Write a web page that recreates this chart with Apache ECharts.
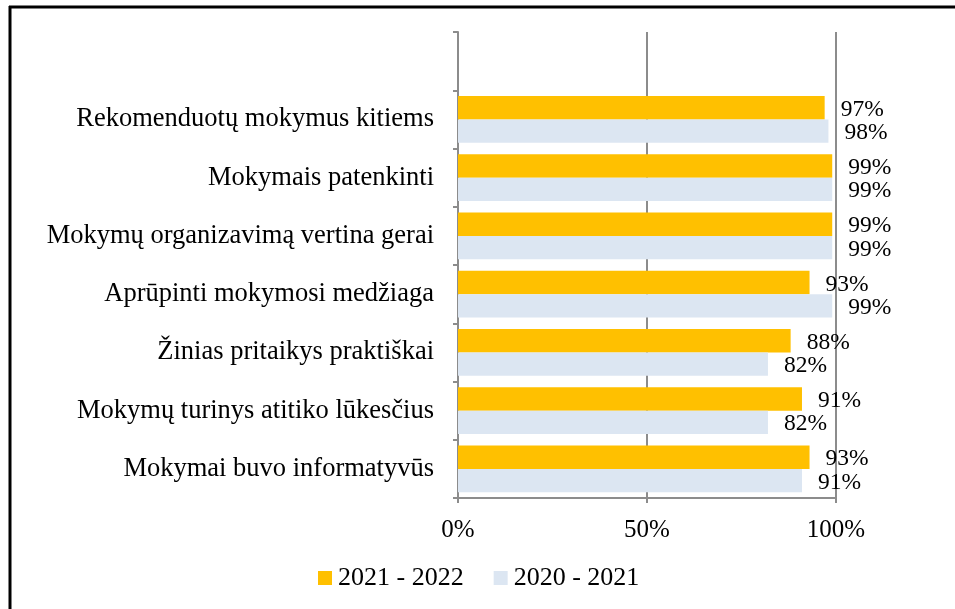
<!DOCTYPE html>
<html>
<head>
<meta charset="utf-8">
<script src="https://cdn.jsdelivr.net/npm/echarts@6/dist/echarts.min.js"></script>
<style>
html,body{margin:0;padding:0;background:#fff;}
#c{width:955px;height:609px;}
</style>
</head>
<body>
<div id="c"></div>
<script>
// Categories listed bottom to top; the top slot is empty in the original
const categories = [
  'Mokymai buvo informatyvūs',
  'Mokymų turinys atitiko lūkesčius',
  'Žinias pritaikys praktiškai',
  'Aprūpinti mokymosi medžiaga',
  'Mokymų organizavimą vertina gerai',
  'Mokymais patenkinti',
  'Rekomenduotų mokymus kitiems',
  ''
];
const series2122 = [93, 91, 88, 93, 99, 99, 97, null];
const series2021 = [91, 82, 82, 99, 99, 99, 98, null];
const seriesNames = ['2021 - 2022', '2020 - 2021'];
const xTicks = [0, 50, 100];

const FONT = "'Liberation Serif', 'Times New Roman', serif";
const GRAY = '#8c8c8c';

const chart = echarts.init(document.getElementById('c'), null, {renderer: 'canvas'});
const labelCfg = {
  show: true,
  position: 'right',
  distance: 16,
  offset: [0, 2],
  formatter: p => p.value == null ? '' : p.value + '%',
  color: '#000',
  fontFamily: FONT,
  fontSize: 23.5
};
chart.setOption({
  animation: false,
  backgroundColor: '#fff',
  textStyle: {fontFamily: FONT},
  grid: {left: 458, right: 119, top: 32, bottom: 111, containLabel: false},
  legend: {
    data: [seriesNames[0], seriesNames[1]],
    left: 313,
    top: 560,
    icon: 'rect',
    itemWidth: 14,
    itemHeight: 14,
    itemGap: 30,
    textStyle: {fontFamily: FONT, fontSize: 26, color: '#000', padding: [0,0,0,1]}
  },
  xAxis: {
    type: 'value',
    min: xTicks[0],
    max: xTicks[xTicks.length - 1],
    interval: 50,
    axisLine: {show: true, lineStyle: {color: GRAY, width: 2}},
    axisTick: {show: true, length: 5, lineStyle: {color: GRAY, width: 2}},
    splitLine: {show: true, lineStyle: {color: GRAY, width: 2}},
    axisLabel: {formatter: '{value}%', color: '#000', fontFamily: FONT, fontSize: 25, margin: 20}
  },
  yAxis: {
    type: 'category',
    data: categories,
    axisLine: {show: true, lineStyle: {color: GRAY, width: 2}},
    axisTick: {show: true, length: 5, lineStyle: {color: GRAY, width: 2}},
    axisLabel: {color: '#000', fontFamily: FONT, fontSize: 26.5, margin: 24}
  },
  series: [
    {
      name: seriesNames[0],
      type: 'bar',
      data: series2122,
      itemStyle: {color: '#FFC000'},
      barGap: '0%',
      barCategoryGap: '20%',
      label: labelCfg
    },
    {
      name: seriesNames[1],
      type: 'bar',
      data: series2021,
      itemStyle: {color: '#DCE6F2'},
      barGap: '0%',
      barCategoryGap: '20%',
      label: labelCfg
    }
  ],
  graphic: [
    {type: 'line', shape: {x1: 9, y1: 7, x2: 955, y2: 7}, style: {stroke: '#000', lineWidth: 3}, silent: true},
    {type: 'line', shape: {x1: 10, y1: 6, x2: 10, y2: 609}, style: {stroke: '#000', lineWidth: 3}, silent: true}
  ]
});
</script>
</body>
</html>
